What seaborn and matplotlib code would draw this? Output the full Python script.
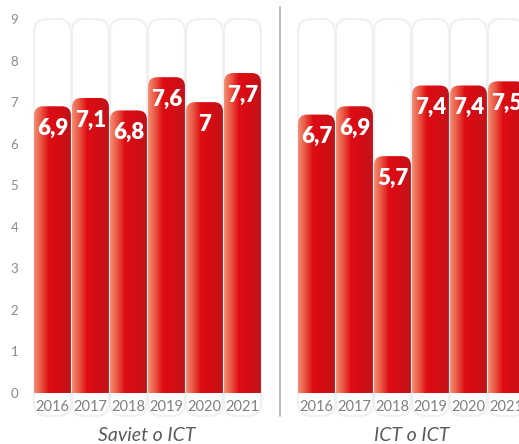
"""
Two panels of rounded red gradient bars: "Saviet o ICT" and "ICT o ICT".
Saved as out.png (519x444 px).
"""

import matplotlib
matplotlib.use("Agg")

import matplotlib.pyplot as plt
import numpy as np
import seaborn as sns
from matplotlib.colors import LinearSegmentedColormap
from matplotlib.lines import Line2D
from matplotlib.patches import FancyBboxPatch

sns.set_theme(style="white")
plt.rcParams["font.family"] = ["Lato", "DejaVu Sans"]

YEARS = ["2016", "2017", "2018", "2019", "2020", "2021"]
SAVIET = [6.9, 7.1, 6.8, 7.6, 7.0, 7.7]
ICT = [6.7, 6.9, 5.7, 7.4, 7.4, 7.5]
TITLES = ["Saviet o ICT", "ICT o ICT"]
Y_TICKS = list(range(0, 10))

W, H = 519, 444
PX_X = 38.0      # pixels per category
PX_Y = 41.56     # pixels per y unit
YMAX = 9
BG_BOTTOM = -0.553

BAR_CMAP = LinearSegmentedColormap.from_list(
    "bar",
    [(0.0, "#f28d70"), (0.2, "#ea5442"), (0.4, "#de0c14"),
     (0.7, "#d40d15"), (1.0, "#c0141b")],
)
GRAD = np.linspace(0, 1, 128).reshape(1, -1)


def fmt(v):
    return f"{v:g}".replace(".", ",")


def draw_panel(ax, values, show_y):
    sns.barplot(x=YEARS, y=values, ax=ax, width=0.97, color="#d40d15")
    ax.set_xlim(-0.5, len(YEARS) - 0.5)
    ax.set_ylim(0, YMAX)
    aspect = PX_X / PX_Y

    for patch, v in zip(list(ax.patches), values):
        x0, w = patch.get_x(), patch.get_width()
        patch.set_visible(False)

        # white background column with rounded top
        bg = FancyBboxPatch(
            (x0, BG_BOTTOM), w, YMAX - BG_BOTTOM,
            boxstyle="round,pad=0,rounding_size=0.34",
            mutation_aspect=aspect,
            facecolor="white", edgecolor="#f0f0f0", lw=1.5,
            clip_on=False, zorder=0,
        )
        ax.add_patch(bg)

        # red bar with rounded top and horizontal gradient
        shape = FancyBboxPatch(
            (x0, -1), w, v + 1,
            boxstyle="round,pad=0,rounding_size=0.24",
            mutation_aspect=aspect,
            facecolor="none", edgecolor="none", zorder=2,
        )
        ax.add_patch(shape)
        img = ax.imshow(
            GRAD, cmap=BAR_CMAP, aspect="auto", interpolation="bilinear",
            extent=(x0, x0 + w, 0, v), zorder=2,
        )
        img.set_clip_path(shape)

        ax.text(
            x0 + w / 2, v - 0.53, fmt(v), ha="center", va="center",
            color="white", fontsize=16, fontweight="heavy", zorder=3,
        )

    ax.set_xlim(-0.5, len(YEARS) - 0.5)
    ax.set_ylim(0, YMAX)
    sns.despine(ax=ax, left=True, bottom=True)
    ax.set_xlabel("")
    ax.set_ylabel("")
    ax.tick_params(axis="x", length=0, pad=5, labelsize=10.5, labelcolor="#808080")
    ax.set_yticks(Y_TICKS)
    if show_y:
        ax.tick_params(axis="y", length=0, pad=11, labelsize=9.5,
                       labelcolor="#8a8a8a")
    else:
        ax.tick_params(axis="y", length=0, labelleft=False)
    ax.grid(False)
    ax.set_facecolor("none")


def main():
    fig = plt.figure(figsize=(W / 100, H / 100), dpi=100)
    bottom = (H - 393) / H
    height = 374 / H
    ax1 = fig.add_axes([33.5 / W, bottom, 228 / W, height])
    ax2 = fig.add_axes([297.5 / W, bottom, 228 / W, height])

    draw_panel(ax1, SAVIET, show_y=True)
    draw_panel(ax2, ICT, show_y=False)

    for cx, title in zip([147, 412], TITLES):
        fig.text(cx / W, (H - 435) / H, title, ha="center", va="center",
                 fontsize=14, style="italic", fontweight="normal",
                 color="#5a5a5a")

    fig.add_artist(Line2D([279.5 / W, 279.5 / W], [(H - 416) / H, (H - 7) / H],
                          color="#bdbdbd", lw=1.4))

    fig.savefig("out.png", dpi=100)
    plt.close(fig)


if __name__ == "__main__":
    main()
